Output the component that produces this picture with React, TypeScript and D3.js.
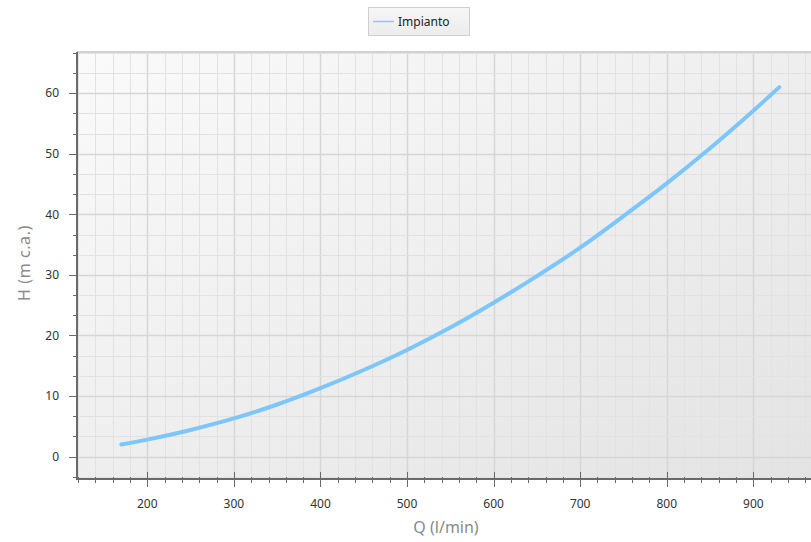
import React from "react";
import * as d3 from "d3";

const flows = [170, 200, 250, 300, 350, 400, 450, 500, 550, 600, 650, 700, 750, 800, 850, 900, 930];
const heads = [2.0, 2.8, 4.4, 6.3, 8.6, 11.3, 14.3, 17.6, 21.3, 25.4, 29.8, 34.5, 39.7, 45.1, 50.9, 57.1, 61.0];
const xMajorTicks = [200, 300, 400, 500, 600, 700, 800, 900];
const yMajorTicks = [0, 10, 20, 30, 40, 50, 60];
const seriesName = "Impianto";
const xTitle = "Q (l/min)";
const yTitle = "H (m c.a.)";

const W = 811;
const H = 542;
const L = 77;
const R = 820;
const T = 52;
const B = 479;

export default function App() {
  const x = d3.scaleLinear().domain([118.8, 977]).range([L, R]);
  const y = d3.scaleLinear().domain([-3.7, 66.8]).range([B, T]);
  const xMinor = d3.range(120, 980, 20);
  const yMinor = d3.range(-1, 21).map((i) => (i * 10) / 3);
  const data = flows.map((q, i) => [q, heads[i]] as [number, number]);
  const line = d3
    .line<[number, number]>()
    .x((d) => x(d[0]))
    .y((d) => y(d[1]))
    .curve(d3.curveCatmullRom);
  const isMajorX = (v: number) => Math.abs(v % 100) < 0.01;
  const isMajorY = (v: number) => Math.abs(v - Math.round(v / 10) * 10) < 0.01;
  const font = "'Noto Sans', 'DejaVu Sans', sans-serif";
  return (
    <svg
      width={W}
      height={H}
      style={{ position: "absolute", left: 0, top: 0, background: "#fff" }}
    >
      <defs>
        <linearGradient id="bg" x1="0" y1="0" x2="1" y2="1">
          <stop offset="0" stopColor="#fafafa" />
          <stop offset="1" stopColor="#e3e3e3" />
        </linearGradient>
        <linearGradient id="lg" x1="0" y1="0" x2="0" y2="1">
          <stop offset="0" stopColor="#f6f6f6" />
          <stop offset="1" stopColor="#ececec" />
        </linearGradient>
        <clipPath id="clip">
          <rect x={L} y={T} width={R - L} height={B - T} />
        </clipPath>
      </defs>
      <rect x={L} y={T} width={R - L} height={B - T} fill="url(#bg)" />
      <g clipPath="url(#clip)">
        {xMinor.map((v) => (
          <line
            key={"gx" + v}
            x1={Math.round(x(v)) + 0.5}
            x2={Math.round(x(v)) + 0.5}
            y1={T}
            y2={B}
            stroke={isMajorX(v) ? "#d6d6d6" : "#e2e2e2"}
            strokeWidth={isMajorX(v) ? 1.5 : 1}
          />
        ))}
        {yMinor.map((v) => (
          <line
            key={"gy" + v}
            x1={L}
            x2={R}
            y1={Math.round(y(v)) + 0.5}
            y2={Math.round(y(v)) + 0.5}
            stroke={isMajorY(v) ? "#d6d6d6" : "#e2e2e2"}
            strokeWidth={isMajorY(v) ? 1.5 : 1}
          />
        ))}
      </g>
      <line x1={L} x2={R} y1={T} y2={T} stroke="#d2d2d2" strokeWidth={2} />
      <path
        d={line(data) || ""}
        fill="none"
        stroke="#7dc6fb"
        strokeWidth={4}
        strokeLinecap="round"
      />
      <line x1={L} x2={L} y1={T} y2={B + 1} stroke="#6a6a6a" strokeWidth={2} />
      <line x1={L} x2={R} y1={B} y2={B} stroke="#6a6a6a" strokeWidth={2} />
      {yMinor.map((v) => (
        <line
          key={"ty" + v}
          x1={isMajorY(v) ? L - 8 : L - 4}
          x2={L}
          y1={Math.round(y(v)) + 0.5}
          y2={Math.round(y(v)) + 0.5}
          stroke="#6a6a6a"
          strokeWidth={1}
        />
      ))}
      {xMinor.map((v) => (
        <line
          key={"tx" + v}
          x1={Math.round(x(v)) + 0.5}
          x2={Math.round(x(v)) + 0.5}
          y1={isMajorX(v) ? B - 7 : B - 2}
          y2={isMajorX(v) ? B + 8 : B + 4}
          stroke="#6a6a6a"
          strokeWidth={1}
        />
      ))}
      {yMajorTicks.map((v) => (
        <text
          key={"ly" + v}
          x={59}
          y={y(v)}
          dy="0.35em"
          textAnchor="end"
          fontFamily={font}
          fontSize={12}
          fill="#333"
        >
          {v}
        </text>
      ))}
      {xMajorTicks.map((v) => (
        <text
          key={"lx" + v}
          x={x(v)}
          y={508}
          textAnchor="middle"
          fontFamily={font}
          fontSize={12}
          fill="#333"
        >
          {v}
        </text>
      ))}
      <text
        x={446}
        y={533}
        textAnchor="middle"
        fontFamily={font}
        fontSize={16}
        fill="#8a8a8a"
      >
        {xTitle}
      </text>
      <text
        transform={`translate(30,263) rotate(-90)`}
        textAnchor="middle"
        fontFamily={font}
        fontSize={16}
        fill="#8a8a8a"
        letterSpacing={0.6}
      >
        {yTitle}
      </text>
      <rect x={368.5} y={7.5} width={101} height={28} fill="url(#lg)" stroke="#cfcfcf" />
      <line x1={373} x2={394} y1={21.5} y2={21.5} stroke="#86cbf8" strokeWidth={1.5} />
      <text x={398} y={26} fontFamily={font} fontSize={12} fill="#222">
        {seriesName}
      </text>
    </svg>
  );
}
